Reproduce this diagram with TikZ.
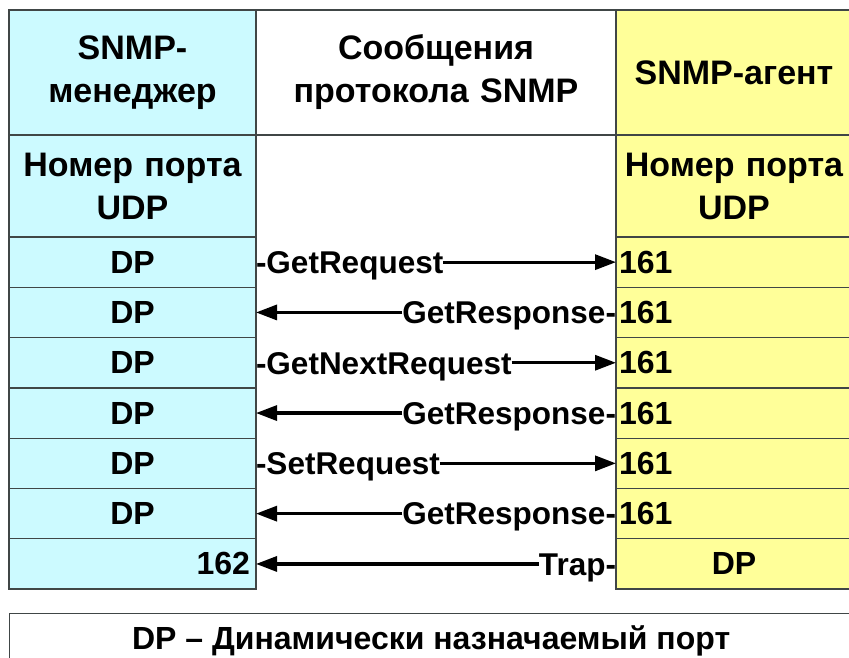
\documentclass[tikz,border=0pt]{standalone}
\usepackage{fontspec}
\setmainfont{Liberation Sans}
\usetikzlibrary{arrows.meta}
\definecolor{cyanfill}{RGB}{204,250,255}
\definecolor{yelfill}{RGB}{255,255,153}
\definecolor{bordc}{RGB}{64,70,70}
\newcommand\hdrfnt{\fontsize{34}{43}\selectfont\bfseries}
\newcommand\celfnt{\fontsize{32}{38}\selectfont\bfseries}
\newcommand\labfnt{\fontsize{31.5}{36}\selectfont\bfseries}
\newcommand\footfnt{\fontsize{32}{38}\selectfont\bfseries}
\begin{document}
\begin{tikzpicture}[x=1pt,y=-1pt,
  cellbase/.style={draw=bordc, line width=1.3pt, anchor=north west, inner ysep=0pt, outer sep=0pt},
  lcell/.style={cellbase, fill=cyanfill, text width=235pt, inner xsep=6pt, minimum height=#1},
  rcell/.style={cellbase, fill=yelfill, text width=230pt, inner xsep=3pt, minimum height=#1},
  mcell/.style={cellbase, fill=white, text width=352pt, inner xsep=4pt, minimum height=#1, align=center},
  lab/.style={inner sep=0pt, outer sep=0pt, font=\labfnt},
  arr/.style={line width=3.2pt, -{Triangle[length=21pt,width=15pt]}}
]
\useasboundingbox (0,0) rectangle (849,658);
\fill[white] (0,0) rectangle (849,658);
% header row
\node[lcell=125pt, align=center, font=\hdrfnt] (hl) at (9,10) {SNMP-\\менеджер};
\node[mcell=125pt, font=\hdrfnt] (hm) at (256,10) {Сообщения\\протокола SNMP};
\node[rcell=125pt, align=center, font=\hdrfnt] (hr) at (616,10) {SNMP-агент};
% port header row
\node[lcell=102pt, align=center, font=\hdrfnt] (pl) at (9,135) {Номер порта\\UDP};
\node[rcell=102pt, align=center, font=\hdrfnt] (pr) at (616,135) {Номер порта\\UDP};
% data rows
\node[lcell=50.3pt, align=center, font=\celfnt] (l1) at (9,237.0) {DP};
\node[lcell=50.3pt, align=center, font=\celfnt] (l2) at (9,287.3) {DP};
\node[lcell=50.3pt, align=center, font=\celfnt] (l3) at (9,337.6) {DP};
\node[lcell=50.3pt, align=center, font=\celfnt] (l4) at (9,387.9) {DP};
\node[lcell=50.3pt, align=center, font=\celfnt] (l5) at (9,438.2) {DP};
\node[lcell=50.3pt, align=center, font=\celfnt] (l6) at (9,488.5) {DP};
\node[lcell=50.3pt, align=right, font=\celfnt] (l7) at (9,538.8) {162};
\node[rcell=50.3pt, align=left, font=\celfnt] (r1) at (616,237.0) {161};
\node[rcell=50.3pt, align=left, font=\celfnt] (r2) at (616,287.3) {161};
\node[rcell=50.3pt, align=left, font=\celfnt] (r3) at (616,337.6) {161};
\node[rcell=50.3pt, align=left, font=\celfnt] (r4) at (616,387.9) {161};
\node[rcell=50.3pt, align=left, font=\celfnt] (r5) at (616,438.2) {161};
\node[rcell=50.3pt, align=left, font=\celfnt] (r6) at (616,488.5) {161};
\node[rcell=50.3pt, align=center, font=\celfnt] (r7) at (616,538.8) {DP};
% messages
\node[lab, anchor=base west] (m1) at (256,273.4) {-GetRequest};
\draw[arr] (m1.east |- r1.west) -- (r1.west);
\node[lab, anchor=base east] (m2) at (616,323.7) {GetResponse-};
\draw[arr] (m2.west |- l2.east) -- (l2.east);
\node[lab, anchor=base west] (m3) at (256,374.0) {-GetNextRequest};
\draw[arr] (m3.east |- r3.west) -- (r3.west);
\node[lab, anchor=base east] (m4) at (616,424.3) {GetResponse-};
\draw[arr] (m4.west |- l4.east) -- (l4.east);
\node[lab, anchor=base west] (m5) at (256,474.6) {-SetRequest};
\draw[arr] (m5.east |- r5.west) -- (r5.west);
\node[lab, anchor=base east] (m6) at (616,524.9) {GetResponse-};
\draw[arr] (m6.west |- l6.east) -- (l6.east);
\node[lab, anchor=base east] (m7) at (616,575.2) {Trap-};
\draw[arr] (m7.west |- l7.east) -- (l7.east);
% footer
\node[draw=bordc, line width=1.3pt, anchor=north west, minimum width=843pt, minimum height=54pt, inner sep=0pt, font=\footfnt] (foot) at (9,613) {DP – Динамически назначаемый порт};
\end{tikzpicture}
\end{document}
